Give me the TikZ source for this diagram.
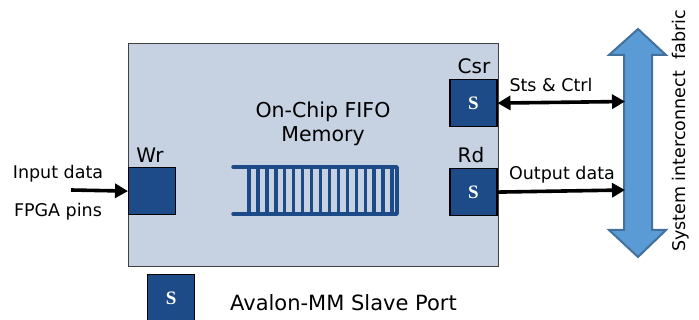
\documentclass[tikz,border=0pt]{standalone}
\usepackage{fontspec}
\setmainfont{DejaVu Sans}
\newfontfamily\serfnt{Liberation Serif}
\usetikzlibrary{arrows.meta}
\definecolor{boxbg}{HTML}{C6D1E1}
\definecolor{portblue}{HTML}{1D4B87}
\definecolor{fabric}{HTML}{5B9BD5}
\definecolor{fabricedge}{HTML}{41719C}
\tikzset{
  port/.style={draw=black, line width=1.2pt, fill=portblue, minimum width=47pt, minimum height=47pt, inner sep=0pt, text=white, font=\serfnt\bfseries\fontsize{19}{19}\selectfont},
  lbl/.style={font=\fontsize{17.5}{20}\selectfont, inner sep=0pt},
  portlbl/.style={font=\fontsize{20}{22}\selectfont, inner sep=0pt},
  biglbl/.style={font=\fontsize{20.5}{24}\selectfont, inner sep=0pt, align=center},
  sig/.style={line width=3.6pt, -{Triangle[length=13pt,width=14pt]}},
  bisig/.style={line width=3.6pt, {Triangle[length=13pt,width=14pt]}-{Triangle[length=13pt,width=14pt]}},
  fifo/.style={draw=portblue, line width=3.4pt}
}
\begin{document}
\begin{tikzpicture}[x=1pt,y=-1pt]
\useasboundingbox (0,0) rectangle (699,320);
% main box
\node[draw=black!75, line width=1pt, fill=boxbg, minimum width=370pt, minimum height=223pt, inner sep=0pt, anchor=north west] (main) at (128,43) {};
\node[biglbl] (title) at (323,124) {On-Chip FIFO\\Memory};
% ports
\node[port, anchor=north west] (wr) at (128,167) {};
\node[portlbl] (wrl) at (150,155) {Wr};
\node[port, anchor=north east] (csr) at (497.5,79) {S};
\node[portlbl] (csrl) at (474,66) {Csr};
\node[port, anchor=north east] (rd) at (497.5,168) {S};
\node[portlbl] (rdl) at (471,155) {Rd};
% FIFO
\draw[fifo, line cap=round, line join=round] (233,167) -- (397,167) -- (397,214) -- (233,214);
\foreach \i in {0,...,16} {
  \draw[fifo] ({249+\i*8.94},167) -- ({249+\i*8.94},214);
}
% input
\node[lbl] (inp) at (58,174) {Input data};
\node[lbl] (pins) at (58,212) {FPGA pins};
\coordinate (instart) at (71,190);
\draw[sig] (instart) -- (wr.west);
% fabric arrow
\draw[fill=fabric, draw=fabricedge, line width=2pt, line join=miter]
  (638,29) -- (666,55) -- (652,55) -- (652,230) -- (666,230) -- (638,257)
  -- (609,230) -- (624,230) -- (624,55) -- (609,55) -- cycle;
\coordinate (fab1) at (625,101.5);
\coordinate (fab2) at (625,190);
\node[lbl, rotate=90] (fabl) at (681,131) {System interconnect\ \ fabric};
% signals
\draw[bisig] (csr.east) -- (fab1);
\node[lbl] (stsl) at (551,85) {Sts \& Ctrl};
\draw[sig] (rd.east) -- (fab2);
\node[lbl] (outl) at (562,175) {Output data};
% legend
\node[port, anchor=north west] (leg) at (147,274) {S};
\node[font=\fontsize{21}{24}\selectfont, inner sep=0pt, anchor=west] (legl) at (230,303) {Avalon-MM Slave Port};
\end{tikzpicture}
\end{document}
